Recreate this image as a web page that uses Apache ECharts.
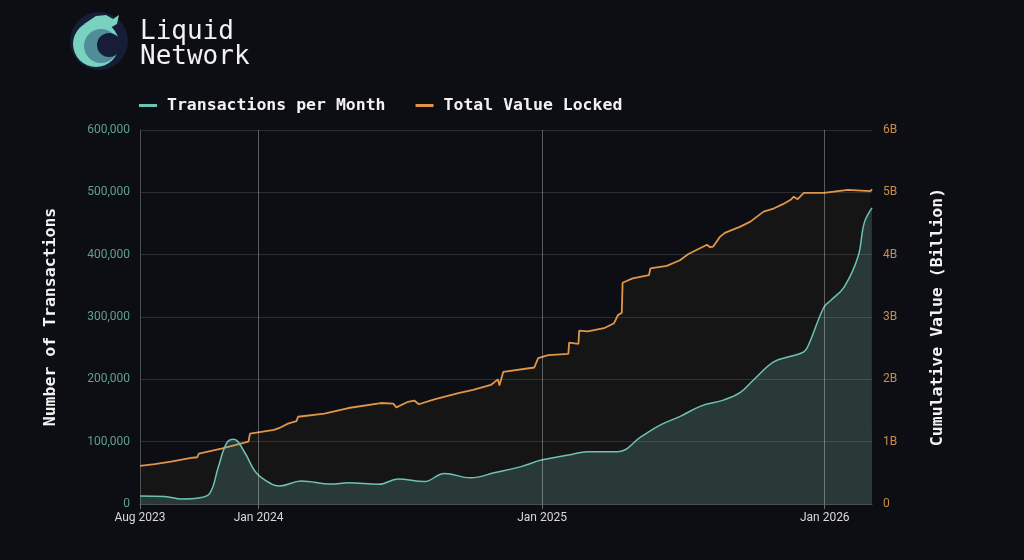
<!DOCTYPE html>
<html>
<head>
<meta charset="utf-8">
<title>Liquid Network</title>
<script src="https://cdn.jsdelivr.net/npm/echarts@6/dist/echarts.min.js"></script>
<style>
html,body{margin:0;padding:0;background:#0d0e13;}
#main{width:1024px;height:560px;}
</style>
</head>
<body>
<div id="main"></div>
<script>
// transactions per month (smoothed curve)
var txDates = ['2023-08-01','2023-09-02','2023-09-24','2023-10-15','2023-10-30','2023-11-10','2023-11-21','2023-11-30',
    '2023-12-14','2023-12-29','2024-01-18','2024-01-28','2024-02-25','2024-04-04','2024-04-26','2024-06-04','2024-06-29',
    '2024-08-02','2024-08-28','2024-10-01','2024-10-31','2024-12-05','2024-12-31','2025-02-04','2025-03-01','2025-04-09',
    '2025-05-09','2025-06-03','2025-06-29','2025-07-25','2025-08-24','2025-09-14','2025-10-01','2025-10-27','2025-11-18',
    '2025-12-05','2025-12-11','2025-12-31','2026-01-09','2026-01-26','2026-02-13','2026-02-21','2026-03-03'];
var txValues = [13000,12000,8000,9500,17000,59000,98000,104000,
    83000,50000,32000,29000,37000,32000,34000,31500,40000,
    36000,49000,42000,50000,60000,70500,78500,84000,84000,
    108000,127000,141000,157000,167000,179000,199000,228000,237000,
    244000,255000,316000,327000,348000,397000,451000,475000];

// total value locked, billions
var tvlDates = ['2023-08-01','2023-08-20','2023-09-10','2023-10-06','2023-10-14','2023-10-16','2023-11-14','2023-12-19',
    '2023-12-21','2024-01-21','2024-01-28','2024-02-08','2024-02-19','2024-02-21','2024-03-26','2024-04-26','2024-06-07',
    '2024-06-23','2024-06-27','2024-07-12','2024-07-20','2024-07-26','2024-08-15','2024-09-15','2024-10-04','2024-10-27',
    '2024-11-05','2024-11-07','2024-11-12','2024-12-22','2024-12-27','2025-01-09','2025-02-04','2025-02-05','2025-02-17',
    '2025-02-18','2025-03-01','2025-03-22','2025-04-04','2025-04-09','2025-04-14','2025-04-15','2025-04-28','2025-05-19',
    '2025-05-21','2025-06-11','2025-06-28','2025-07-09','2025-08-02','2025-08-06','2025-08-10','2025-08-19','2025-08-25',
    '2025-09-14','2025-09-27','2025-10-14','2025-10-27','2025-11-08','2025-11-18','2025-11-22','2025-11-27','2025-12-05',
    '2025-12-31','2026-01-31','2026-03-01','2026-03-03'];
var tvlValues = [0.61,0.64,0.68,0.74,0.75,0.81,0.89,1.00,
    1.13,1.19,1.22,1.29,1.33,1.40,1.45,1.54,1.62,
    1.61,1.55,1.64,1.66,1.60,1.68,1.78,1.83,1.91,
    2.00,1.90,2.12,2.19,2.34,2.39,2.41,2.59,2.57,
    2.78,2.77,2.82,2.90,3.03,3.07,3.55,3.62,3.67,
    3.78,3.82,3.91,4.01,4.16,4.12,4.13,4.29,4.35,
    4.45,4.53,4.69,4.74,4.81,4.88,4.93,4.89,4.99,
    4.99,5.04,5.02,5.05];

var xStart = '2023-08-01';
var xEnd = '2026-03-03';
var xLabelDates = ['2023-08-01','2024-01-01','2025-01-01','2026-01-01'];
var yearLines = ['2024-01-01','2025-01-01','2026-01-01'];
var monthNames = ['Jan','Feb','Mar','Apr','May','Jun','Jul','Aug','Sep','Oct','Nov','Dec'];

var mono = '"DejaVu Sans Mono", "Liberation Mono", monospace';

function ts(d) {
    return +echarts.time.parse(d);
}

var txData = [];
for (var i = 0; i < txDates.length; i++) {
    txData.push([ts(txDates[i]), txValues[i]]);
}
var tvlData = [];
for (var j = 0; j < tvlDates.length; j++) {
    tvlData.push([ts(tvlDates[j]), tvlValues[j]]);
}
var xLabelValues = xLabelDates.map(ts);

var myChart = echarts.init(document.getElementById('main'));
var option = {
    backgroundColor: '#0d0e13',
    animation: false,
    title: {
        text: 'Liquid\nNetwork',
        left: 135,
        top: 15,
        textStyle: {
            fontFamily: mono,
            fontSize: 26,
            fontWeight: 'normal',
            color: '#f2f2f2',
            lineHeight: 25
        }
    },
    graphic: [
        // logo
        { type: 'circle', shape: { cx: 99, cy: 41, r: 29 }, style: { fill: '#151d37' } },
        { type: 'circle', shape: { cx: 96, cy: 44, r: 23 }, style: { fill: '#78d2bf' } },
        { type: 'circle', shape: { cx: 101, cy: 46, r: 17 }, style: { fill: '#4f8e98' } },
        { type: 'circle', shape: { cx: 109, cy: 45, r: 12 }, style: { fill: '#151d37' } },
        { type: 'polygon', shape: { points: [[84, 24], [96, 16], [106, 15], [113, 19], [119, 15], [117, 24], [110, 28], [103, 25], [95, 27]] }, style: { fill: '#78d2bf' } }
    ],
    legend: {
        left: 139,
        top: 97,
        padding: 0,
        itemGap: 30,
        itemWidth: 18,
        itemHeight: 3,
        icon: 'rect',
        textStyle: {
            fontFamily: mono,
            fontSize: 16.5,
            fontWeight: 'bold',
            color: '#f2f2f2',
            padding: [0, 0, 0, 5]
        },
        data: ['Transactions per Month', 'Total Value Locked']
    },
    grid: {
        left: 140,
        right: 152,
        top: 130,
        bottom: 56
    },
    xAxis: {
        type: 'value',
        min: ts(xStart),
        max: ts(xEnd),
        axisLine: { show: true, lineStyle: { color: '#4a4f52' } },
        axisTick: { show: true, customValues: xLabelValues, length: 5, lineStyle: { color: '#6a6a6a' } },
        splitLine: { show: false },
        axisLabel: {
            customValues: xLabelValues,
            color: '#d8d8d8',
            fontFamily: 'Roboto',
            fontSize: 12,
            margin: 8,
            formatter: function (v) {
                var d = new Date(v);
                return monthNames[d.getMonth()] + ' ' + d.getFullYear();
            }
        }
    },
    yAxis: [
        {
            type: 'value',
            name: 'Number of Transactions',
            nameLocation: 'middle',
            nameRotate: 90,
            nameGap: 81,
            nameTextStyle: { fontFamily: mono, fontSize: 16.5, fontWeight: 'bold', color: '#f2f2f2' },
            min: 0,
            max: 600000,
            interval: 100000,
            axisLine: { show: true, lineStyle: { color: '#4a4f52' } },
            axisTick: { show: false },
            splitLine: { lineStyle: { color: '#2c2d31' } },
            axisLabel: {
                color: '#5f9f94',
                fontFamily: 'Roboto',
                fontSize: 12,
                margin: 10,
                formatter: function (v) { return v.toLocaleString('en-US'); }
            }
        },
        {
            type: 'value',
            name: 'Cumulative Value (Billion)',
            nameLocation: 'middle',
            nameRotate: 90,
            nameGap: 57,
            nameTextStyle: { fontFamily: mono, fontSize: 16.5, fontWeight: 'bold', color: '#f2f2f2' },
            min: 0,
            max: 6,
            interval: 1,
            axisLine: { show: false },
            axisTick: { show: false },
            splitLine: { show: false },
            axisLabel: {
                color: '#c98d4e',
                fontFamily: 'Roboto',
                fontSize: 12,
                margin: 11,
                formatter: function (v) { return v === 0 ? '0' : v + 'B'; }
            }
        }
    ],
    series: [
        {
            name: 'Total Value Locked',
            type: 'line',
            yAxisIndex: 1,
            data: tvlData,
            showSymbol: false,
            color: '#e0954b',
            lineStyle: { width: 1.8, color: '#e0954b' },
            areaStyle: { color: 'rgba(187,150,93,0.08)' },
            z: 2
        },
        {
            name: 'Transactions per Month',
            type: 'line',
            yAxisIndex: 0,
            data: txData,
            smooth: 0.4,
            showSymbol: false,
            color: '#6cc3b4',
            lineStyle: { width: 1.5, color: '#6cc3b4' },
            areaStyle: { color: 'rgba(108,195,180,0.3)' },
            z: 3,
            markLine: {
                silent: true,
                symbol: 'none',
                label: { show: false },
                lineStyle: { color: 'rgba(255,255,255,0.32)', width: 1, type: 'solid' },
                data: yearLines.map(function (d) { return { xAxis: ts(d) }; })
            }
        }
    ]
};
myChart.setOption(option);
</script>
</body>
</html>
